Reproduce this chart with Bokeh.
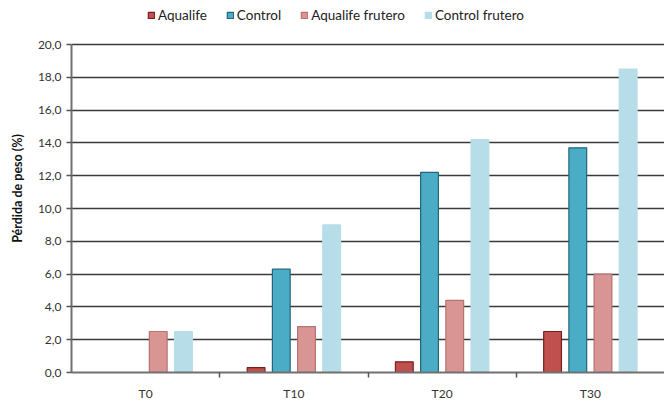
import numpy as np
from bokeh.plotting import figure
from bokeh.models import (ColumnDataSource, FixedTicker, Legend, LegendItem, Range1d)
from bokeh.embed import file_html
from bokeh.resources import INLINE

categories = ["T0", "T10", "T20", "T30"]
series_names = ["Aqualife", "Control", "Aqualife frutero", "Control frutero"]
aqualife = [0.0, 0.3, 0.65, 2.5]
control = [0.0, 6.3, 12.2, 13.7]
aqualife_frutero = [2.5, 2.8, 4.4, 6.0]
control_frutero = [2.5, 9.0, 14.2, 18.5]
y_ticks = [0, 2, 4, 6, 8, 10, 12, 14, 16, 18, 20]
y_tick_labels = ["0,0", "2,0", "4,0", "6,0", "8,0", "10,0", "12,0", "14,0", "16,0", "18,0", "20,0"]

series = [aqualife, control, aqualife_frutero, control_frutero]
fills = ["#c0504d", "#4bacc6", "#d99594", "#b7dde8"]
lines = ["#7a1f1f", "#21667a", "#b87070", "#b7dde8"]
offsets = [-0.255, -0.085, 0.085, 0.255]
bar_w = 0.12

FONT = "Lato"

# frame spans from top of page (legend area) to the x axis; the value axis
# itself only covers 0..20 (328 px out of 368 px of frame)
top_border, bottom_border = 4, 31
height = 403
frame_px = height - top_border - bottom_border
axis_px = 328
y_max = y_ticks[-1]
y_end = y_max * frame_px / axis_px

p = figure(width=664, height=height, output_backend="svg", toolbar_location=None,
           x_range=Range1d(0, 4), y_range=Range1d(0, y_end),
           min_border_left=71, min_border_right=0, min_border_top=top_border,
           min_border_bottom=bottom_border)
p.outline_line_color = None
p.background_fill_color = "white"

idx = np.arange(len(categories)) + 0.5
renderers = []
for name, vals, fc, lc, off in zip(series_names, series, fills, lines, offsets):
    src = ColumnDataSource(dict(x=idx + off, top=vals))
    r = p.vbar(x="x", top="top", width=bar_w, source=src, fill_color=fc,
               line_color=lc, line_width=1.2)
    renderers.append((name, r))

# axes
p.xaxis.ticker = FixedTicker(ticks=[float(v) for v in idx], minor_ticks=[1, 2, 3])
p.xaxis.major_label_overrides = {float(i): c for i, c in zip(idx, categories)}
p.xaxis.major_tick_out = 0
p.xaxis.major_tick_in = 0
p.xaxis.minor_tick_out = 5
p.xaxis.minor_tick_in = 0
p.xaxis.minor_tick_line_color = "#555555"
p.xaxis.minor_tick_line_width = 1.5
p.xaxis.axis_line_color = "#707070"
p.xaxis.axis_line_width = 2
p.xaxis.major_label_text_font = FONT
p.xaxis.major_label_text_font_size = "12px"
p.xaxis.major_label_text_color = "#333333"
p.xaxis.major_label_standoff = 8

p.yaxis.ticker = FixedTicker(ticks=y_ticks)
p.yaxis.bounds = (0, y_max)
p.yaxis.major_label_overrides = {t: l for t, l in zip(y_ticks, y_tick_labels)}
p.yaxis.minor_tick_line_color = None
p.yaxis.major_tick_out = 5
p.yaxis.major_tick_in = 0
p.yaxis.major_tick_line_color = "#555555"
p.yaxis.major_tick_line_width = 1.5
p.yaxis.axis_line_color = "#707070"
p.yaxis.axis_line_width = 2
p.yaxis.major_label_text_font = FONT
p.yaxis.major_label_text_font_size = "12px"
p.yaxis.major_label_text_color = "#333333"
p.yaxis.major_label_standoff = 5
p.yaxis.axis_label = "Pérdida de peso (%)"
p.yaxis.axis_label_text_font = FONT
p.yaxis.axis_label_text_font_style = "bold"
p.yaxis.axis_label_text_font_size = "12.5px"
p.yaxis.axis_label_text_color = "#111111"
p.yaxis.axis_label_standoff = 10

p.xgrid.grid_line_color = None
p.ygrid.grid_line_color = "#3a3a3a"
p.ygrid.grid_line_width = 1.5
p.ygrid.ticker = FixedTicker(ticks=y_ticks)

legend = Legend(items=[LegendItem(label=n, renderers=[r]) for n, r in renderers],
                orientation="horizontal", location=(76, 349),
                label_text_font=FONT, label_text_font_size="13.5px",
                label_text_color="#222222",
                glyph_width=8, glyph_height=8, spacing=19, label_standoff=3,
                padding=0, margin=0, border_line_color=None,
                background_fill_alpha=0)
p.add_layout(legend, "center")

open("out.html", "w").write(file_html(p, INLINE))
